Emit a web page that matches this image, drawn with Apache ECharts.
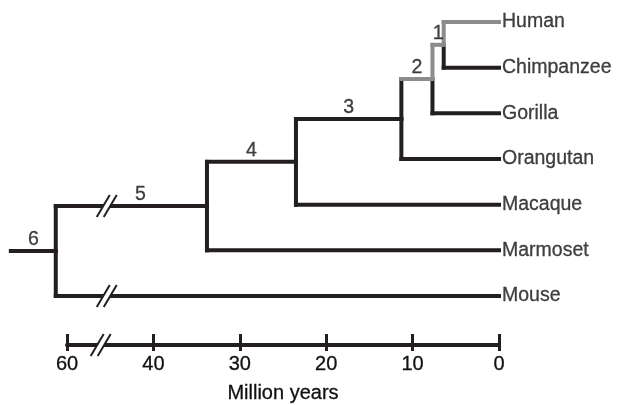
<!DOCTYPE html>
<html>
<head>
<meta charset="utf-8">
<script src="https://cdn.jsdelivr.net/npm/echarts@6/dist/echarts.min.js"></script>
<style>
html,body{margin:0;padding:0;background:#fff;}
#chart{width:621px;height:405px;}
</style>
</head>
<body>
<div id="chart"></div>
<script>
// ---- data ----
const leaves = ['Human', 'Chimpanzee', 'Gorilla', 'Orangutan', 'Macaque', 'Marmoset', 'Mouse'];
// divergence times (million years, on the drawn scale; the root lies past the axis break)
const nodeAges = [6.4, 7.7, 11.3, 23.5, 33.8, 51.3];
const nodeNames = ['1', '2', '3', '4', '5', '6'];
const nodeChildren = [['L0', 'L1'], ['N0', 'L2'], ['N1', 'L3'], ['N2', 'L4'], ['N3', 'L5'], ['N4', 'L6']];
const rootStubAge = 56.5;
const humanLineage = ['L0', 'N0', 'N1'];
const treeBreakAge = 45.4;
const axisBreakAge = 46.1;
const tickValues = [0, 10, 20, 30, 40, 50];
const tickLabels = ['0', '10', '20', '30', '40', '60'];
const axisTitle = 'Million years';

// ---- layout ----
const ink = '#231f20';
const textInk = '#111111';
const grey = '#8c8c8c';
const font = 'Liberation Sans, Arial, Helvetica, sans-serif';
const textBold = { textBorderColor: textInk, textBorderWidth: 0.3 };
const pxPerUnit = (499 - 67) / 50;
const treeMax = 57;
const treeLeft = 499 - treeMax * pxPerUnit;

const yOf = {}, ageOf = {}, parentOf = {};
leaves.forEach((n, i) => { yOf['L' + i] = i; ageOf['L' + i] = 0; });
nodeChildren.forEach((ch, k) => {
  const id = 'N' + k;
  yOf[id] = (yOf[ch[0]] + yOf[ch[1]]) / 2;
  ageOf[id] = nodeAges[k];
  ch.forEach(c => parentOf[c] = id);
});
const rootId = 'N' + (nodeChildren.length - 1);
const hl = id => humanLineage.indexOf(id) >= 0;

const blackSegs = [], greySegs = [];
nodeChildren.forEach((ch, k) => {
  const id = 'N' + k;
  ch.forEach(c => {
    const vert = { coords: [[ageOf[id], yOf[id]], [ageOf[id], yOf[c]]] };
    const horiz = { coords: [[ageOf[id], yOf[c]], [ageOf[c], yOf[c]]] };
    ((hl(c) && hl(id)) ? greySegs : blackSegs).push(vert);
    (hl(c) ? greySegs : blackSegs).push(horiz);
  });
});
blackSegs.push({ coords: [[rootStubAge, yOf[rootId]], [ageOf[rootId], yOf[rootId]]] });

const nodeLabelData = nodeChildren.map((ch, k) => {
  const id = 'N' + k;
  const pAge = parentOf[id] ? ageOf[parentOf[id]] : rootStubAge;
  return { value: [(pAge + ageOf[id]) / 2, yOf[id], nodeNames[k]],
           label: k === 4 ? { offset: [9, 0] } : undefined };
});
const leafLabelData = leaves.map((n, i) => [0, i, n]);
const treeBreaks = [[treeBreakAge, yOf['N4']], [treeBreakAge, yOf['L6']]];

function renderBreak(params, api) {
  const p = api.coord([api.value(0), api.value(1)]);
  const dx = 6.5, dy = 11, gap = 3.5, h = 3, hx = h * dx / dy;
  const x0 = p[0], y0 = p[1];
  return {
    type: 'group',
    children: [
      { type: 'polygon', shape: { points: [[x0 - gap - hx, y0 + h], [x0 - gap + hx, y0 - h], [x0 + gap + hx, y0 - h], [x0 + gap - hx, y0 + h]] }, style: { fill: '#fff' } },
      { type: 'line', shape: { x1: x0 - gap - dx, y1: y0 + dy, x2: x0 - gap + dx, y2: y0 - dy }, style: { stroke: ink, lineWidth: 2 } },
      { type: 'line', shape: { x1: x0 + gap - dx, y1: y0 + dy, x2: x0 + gap + dx, y2: y0 - dy }, style: { stroke: ink, lineWidth: 2 } }
    ]
  };
}

const chart = echarts.init(document.getElementById('chart'), null, { renderer: 'canvas' });
chart.setOption({
  animation: false,
  backgroundColor: '#fff',
  textStyle: { fontFamily: font, color: textInk },
  grid: [
    { left: treeLeft, right: 122, top: 22, bottom: 109 },
    { left: 67, right: 122, top: 300, bottom: 60 }
  ],
  xAxis: [
    { gridIndex: 0, type: 'value', min: 0, max: treeMax, inverse: true, show: false },
    { gridIndex: 1, type: 'value', position: 'bottom', min: 0, max: 50, interval: 10, inverse: true,
      axisLine: { show: true, lineStyle: { color: ink, width: 4 } },
      axisTick: { show: true, inside: true, length: 11, lineStyle: { color: ink, width: 3 } },
      axisLabel: Object.assign({ show: true, color: textInk, fontSize: 20, fontFamily: font, margin: 9,
        formatter: v => { const i = tickValues.indexOf(v); return i >= 0 ? tickLabels[i] : ''; } }, textBold),
      splitLine: { show: false },
      name: axisTitle, nameLocation: 'middle', nameGap: 38,
      nameTextStyle: Object.assign({ color: textInk, fontSize: 20, fontFamily: font }, textBold) },
    { gridIndex: 1, type: 'value', position: 'bottom', min: 0, max: 50, interval: 10, inverse: true,
      axisLine: { show: false },
      axisTick: { show: true, inside: false, length: 6, lineStyle: { color: ink, width: 3 } },
      axisLabel: { show: false }, splitLine: { show: false } }
  ],
  yAxis: [
    { gridIndex: 0, type: 'value', min: 0, max: 6, inverse: true, show: false },
    { gridIndex: 1, type: 'value', min: 0, max: 1, show: false }
  ],
  series: [
    { type: 'lines', coordinateSystem: 'cartesian2d', xAxisIndex: 0, yAxisIndex: 0, polyline: true, z: 2,
      lineStyle: { color: ink, width: 4, opacity: 1, cap: 'square', join: 'miter' }, data: blackSegs },
    { type: 'lines', coordinateSystem: 'cartesian2d', xAxisIndex: 0, yAxisIndex: 0, polyline: true, z: 3,
      lineStyle: { color: grey, width: 4, opacity: 1, cap: 'square', join: 'miter' }, data: greySegs },
    { type: 'custom', xAxisIndex: 0, yAxisIndex: 0, z: 5, renderItem: renderBreak, data: treeBreaks },
    { type: 'custom', xAxisIndex: 1, yAxisIndex: 1, z: 5, renderItem: renderBreak, data: [[axisBreakAge, 0]] },
    { type: 'scatter', xAxisIndex: 0, yAxisIndex: 0, symbolSize: 0, z: 6,
      label: Object.assign({ show: true, position: 'right', distance: 3, color: textInk, fontSize: 19.5, fontFamily: font,
        formatter: p => p.value[2] }, textBold),
      data: leafLabelData },
    { type: 'scatter', xAxisIndex: 0, yAxisIndex: 0, symbolSize: 0, z: 6,
      label: Object.assign({ show: true, position: 'top', distance: 1, color: textInk, fontSize: 19.5, fontFamily: font,
        formatter: p => p.value[2] }, textBold),
      data: nodeLabelData }
  ]
});
</script>
</body>
</html>
